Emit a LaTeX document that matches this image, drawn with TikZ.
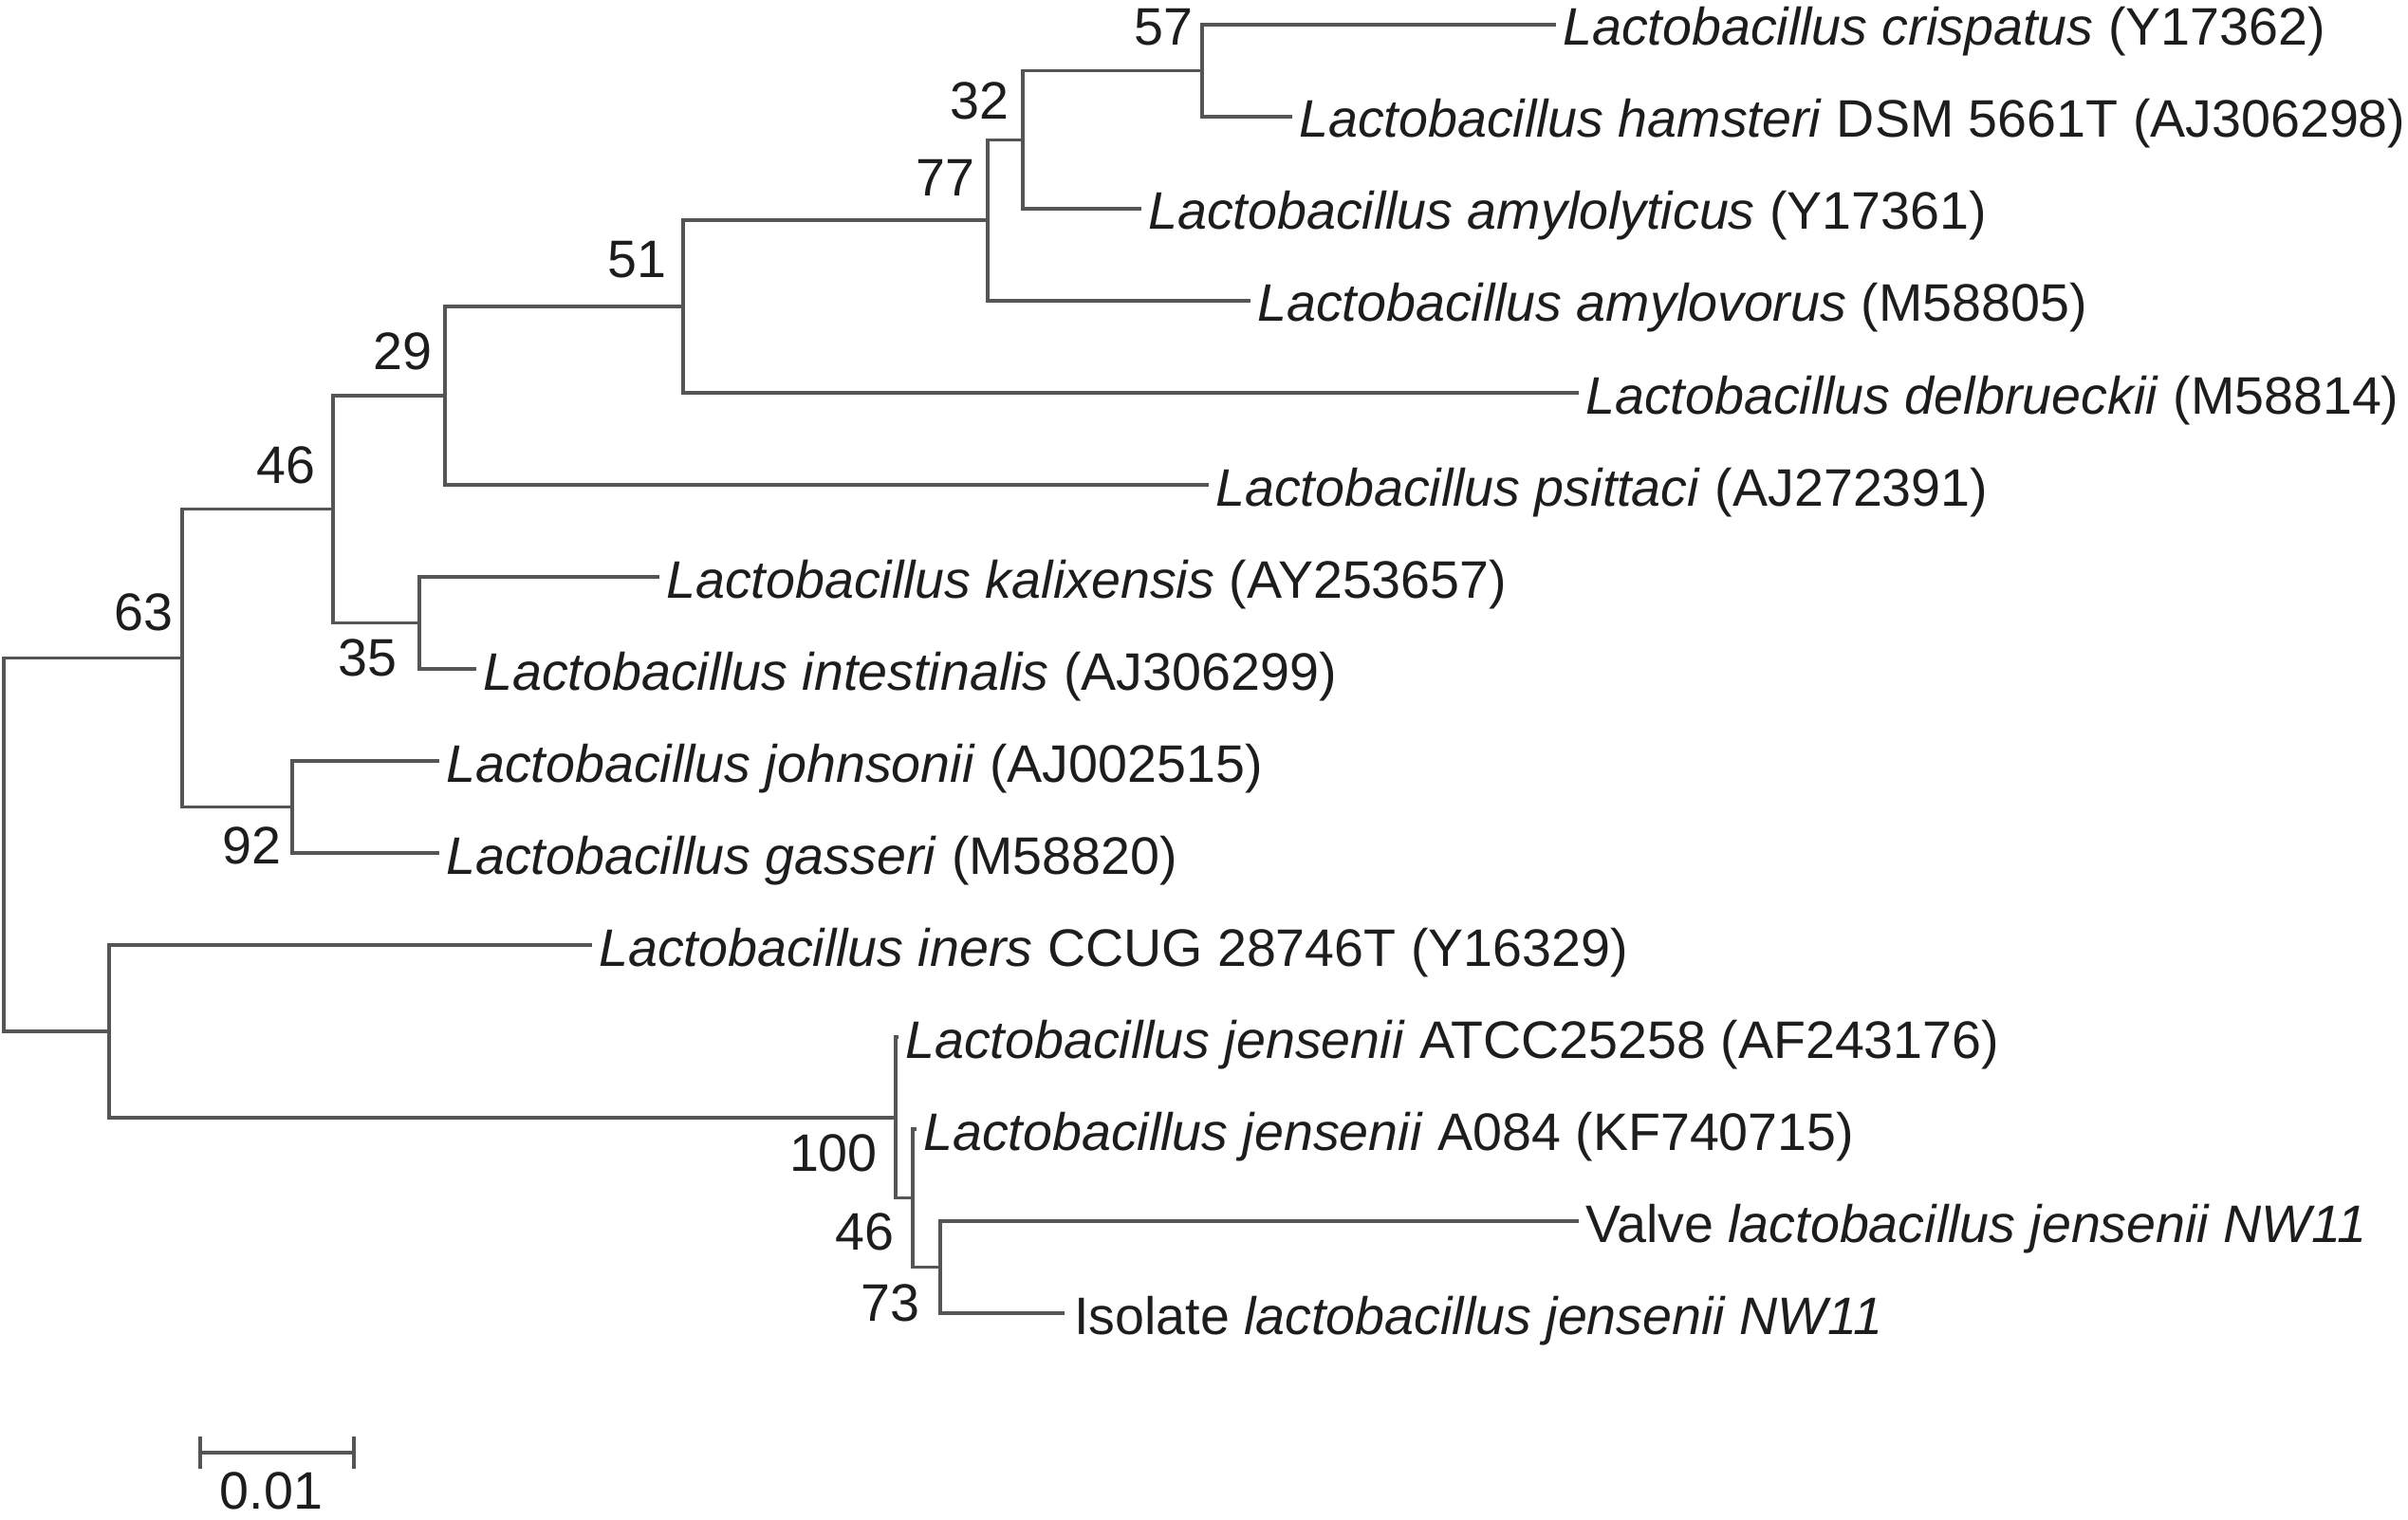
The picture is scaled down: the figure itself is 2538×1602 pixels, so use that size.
\documentclass[tikz,border=0pt]{standalone}
\usepackage{fontspec}
\setmainfont{Liberation Sans}
\usetikzlibrary{calc}
\definecolor{linegray}{RGB}{85,85,85}
\definecolor{ink}{RGB}{30,28,30}
\begin{document}
\begin{tikzpicture}[x=1pt,y=-1pt,
  branch/.style={draw=linegray,line width=3.3pt,line cap=rect},
  leaf/.style={anchor=base west,inner sep=0pt,text=ink,font=\fontsize{55.6}{60}\selectfont},
  boot/.style={anchor=base east,inner sep=0pt,text=ink,font=\fontsize{55.6}{60}\selectfont}]
\useasboundingbox (0,0) rectangle (2538,1602);
% internal nodes
\coordinate (root) at (4,890);
\coordinate (n63) at (192,693.6);
\coordinate (n46) at (351,536.75);
\coordinate (n29) at (469,417);
\coordinate (n51) at (720,323);
\coordinate (n77) at (1041,232.1);
\coordinate (n32) at (1078,147.25);
\coordinate (n57) at (1267,74.5);
\coordinate (n35) at (442,656.5);
\coordinate (n92) at (308,850.5);
\coordinate (nlow) at (115,1087);
\coordinate (n100) at (944,1177.9);
\coordinate (n46b) at (962,1262.75);
\coordinate (n73) at (991,1335.5);
% tips
\coordinate (t0) at (1638,26);
\coordinate (t1) at (1360,123);
\coordinate (t2) at (1201,220);
\coordinate (t3) at (1316,317);
\coordinate (t4) at (1662,414);
\coordinate (t5) at (1272,511);
\coordinate (t6) at (693,608);
\coordinate (t7) at (500,705);
\coordinate (t8) at (461,802);
\coordinate (t9) at (461,899);
\coordinate (t10) at (622,996);
\coordinate (t11) at (945,1093);
\coordinate (t12) at (964,1190);
\coordinate (t13) at (1662,1287);
\coordinate (t14) at (1120,1384);
% branches
\draw[branch] (root) |- (n63);
\draw[branch] (root) |- (nlow);
\draw[branch] (n63) |- (n46);
\draw[branch] (n63) |- (n92);
\draw[branch] (n46) |- (n29);
\draw[branch] (n46) |- (n35);
\draw[branch] (n29) |- (n51);
\draw[branch] (n29) |- (t5);
\draw[branch] (n51) |- (n77);
\draw[branch] (n51) |- (t4);
\draw[branch] (n77) |- (n32);
\draw[branch] (n77) |- (t3);
\draw[branch] (n32) |- (n57);
\draw[branch] (n32) |- (t2);
\draw[branch] (n57) |- (t0);
\draw[branch] (n57) |- (t1);
\draw[branch] (n35) |- (t6);
\draw[branch] (n35) |- (t7);
\draw[branch] (n92) |- (t8);
\draw[branch] (n92) |- (t9);
\draw[branch] (nlow) |- (t10);
\draw[branch] (nlow) |- (n100);
\draw[branch] (n100) |- (t11);
\draw[branch] (n100) |- (n46b);
\draw[branch] (n46b) |- (t12);
\draw[branch] (n46b) |- (n73);
\draw[branch] (n73) |- (t13);
\draw[branch] (n73) |- (t14);
% leaf labels
\node[leaf] (l0) at ([shift={(9,22)}]t0) {\textit{Lactobacillus crispatus} (Y17362)};
\node[leaf] (l1) at ([shift={(9,22)}]t1) {\textit{Lactobacillus hamsteri} DSM 5661T (AJ306298)};
\node[leaf] (l2) at ([shift={(9,22)}]t2) {\textit{Lactobacillus amylolyticus} (Y17361)};
\node[leaf] (l3) at ([shift={(9,22)}]t3) {\textit{Lactobacillus amylovorus} (M58805)};
\node[leaf] (l4) at ([shift={(9,22)}]t4) {\textit{Lactobacillus delbrueckii} (M58814)};
\node[leaf] (l5) at ([shift={(9,22)}]t5) {\textit{Lactobacillus psittaci} (AJ272391)};
\node[leaf] (l6) at ([shift={(9,22)}]t6) {\textit{Lactobacillus kalixensis} (AY253657)};
\node[leaf] (l7) at ([shift={(9,22)}]t7) {\textit{Lactobacillus intestinalis} (AJ306299)};
\node[leaf] (l8) at ([shift={(9,22)}]t8) {\textit{Lactobacillus johnsonii} (AJ002515)};
\node[leaf] (l9) at ([shift={(9,22)}]t9) {\textit{Lactobacillus gasseri} (M58820)};
\node[leaf] (l10) at ([shift={(9,22)}]t10) {\textit{Lactobacillus iners} CCUG 28746T (Y16329)};
\node[leaf] (l11) at ([shift={(9,22)}]t11) {\textit{Lactobacillus jensenii} ATCC25258 (AF243176)};
\node[leaf] (l12) at ([shift={(9,22)}]t12) {\textit{Lactobacillus jensenii} A084 (KF740715)};
\node[leaf] (l13) at ([shift={(9,22)}]t13) {Valve \textit{lactobacillus jensenii NW11}};
\node[leaf] (l14) at ([shift={(12,22)}]t14) {Isolate \textit{lactobacillus jensenii NW11}};
% bootstrap values
\node[boot] (b57) at ([shift={(-9,-26.5)}]n57) {57};
\node[boot] (b32) at ([shift={(-14,-22)}]n32) {32};
\node[boot] (b77) at ([shift={(-13,-26)}]n77) {77};
\node[boot] (b51) at ([shift={(-17,-30)}]n51) {51};
\node[boot] (b29) at ([shift={(-13,-27)}]n29) {29};
\node[boot] (b46) at ([shift={(-18,-27)}]n46) {46};
\node[boot] (b63) at ([shift={(-9,-29)}]n63) {63};
\node[boot] (b35) at ([shift={(-23,56)}]n35) {35};
\node[boot] (b92) at ([shift={(-11,60)}]n92) {92};
\node[boot] (b100) at ([shift={(-19,57)}]n100) {100};
\node[boot] (b46b) at ([shift={(-19,55)}]n46b) {46};
\node[boot] (b73) at ([shift={(-21,57)}]n73) {73};
% scale bar
\coordinate (sb1) at (211,1531);
\coordinate (sb2) at (373,1531);
\draw[branch,line cap=butt] (sb1) -- (sb2);
\draw[branch,line cap=butt] ([yshift=-17]sb1) -- ([yshift=17]sb1);
\draw[branch,line cap=butt] ([yshift=-17]sb2) -- ([yshift=17]sb2);
\node[anchor=base,inner sep=0pt,text=ink,font=\fontsize{55.6}{60}\selectfont] (sbl) at ([shift={(2,59)}]$(sb1)!0.45!(sb2)$) {0.01};
\end{tikzpicture}
\end{document}
